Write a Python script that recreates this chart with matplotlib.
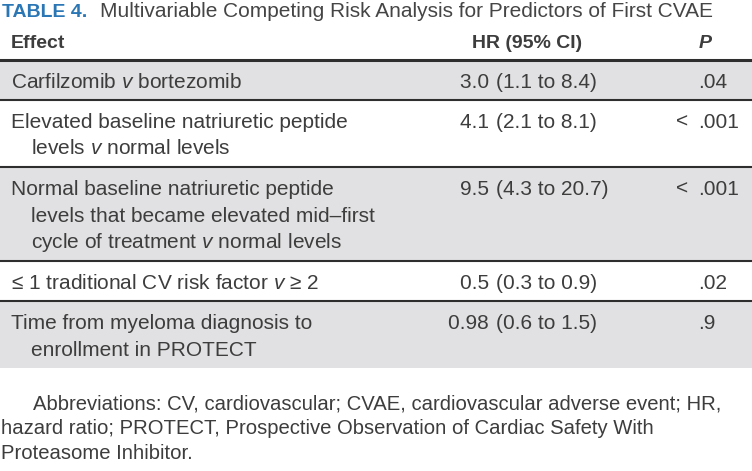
import matplotlib
matplotlib.use("Agg")
import matplotlib.pyplot as plt

plt.rcParams["font.family"] = ["Liberation Sans", "DejaVu Sans"]
plt.rcParams["mathtext.fontset"] = "custom"
plt.rcParams["mathtext.rm"] = "Liberation Sans"
plt.rcParams["mathtext.it"] = "Liberation Sans:italic"

title_label = "TABLE 4."
title_text = "Multivariable Competing Risk Analysis for Predictors of First CVAE"
headers = ["Effect", "HR (95% CI)", "P"]

effects = [
    [r"Carfilzomib $\mathit{v}$ bortezomib"],
    ["Elevated baseline natriuretic peptide", r"levels $\mathit{v}$ normal levels"],
    ["Normal baseline natriuretic peptide",
     "levels that became elevated mid\u2013first",
     r"cycle of treatment $\mathit{v}$ normal levels"],
    ["\u2264 1 traditional CV risk factor $\\mathit{v}$ \u2265 2"],
    ["Time from myeloma diagnosis to", "enrollment in PROTECT"],
]
hr_est = ["3.0", "4.1", "9.5", "0.5", "0.98"]
hr_ci = ["(1.1 to 8.4)", "(2.1 to 8.1)", "(4.3 to 20.7)", "(0.3 to 0.9)", "(0.6 to 1.5)"]
p_prefix = ["", "<", "<", "", ""]
p_values = [".04", ".001", ".001", ".02", ".9"]

footnote = [
    "Abbreviations: CV, cardiovascular; CVAE, cardiovascular adverse event; HR,",
    "hazard ratio; PROTECT, Prospective Observation of Cardiac Safety With",
    "Proteasome Inhibitor.",
]

W, H = 752, 471
fig = plt.figure(figsize=(W / 100, H / 100), dpi=100)
ax = fig.add_axes([0, 0, 1, 1])
ax.set_xlim(0, W)
ax.set_ylim(H, 0)
ax.axis("off")

txt = "#3d3d3d"
gray = "#e1e0e2"
rule = "#2e2e2e"
fs = 15

ax.text(2, 17, title_label, color="#2b76b4", fontsize=14, fontweight="bold", va="baseline")
ax.text(100, 17, title_text, color="#454545", fontsize=15, va="baseline")

ax.text(11, 48, headers[0], color=txt, fontsize=14, fontweight="bold", va="baseline")
ax.text(527, 48, headers[1], color=txt, fontsize=14, fontweight="bold", va="baseline", ha="center")
ax.text(705, 48, headers[2], color=txt, fontsize=14, fontweight="bold", style="italic",
        va="baseline", ha="center")

top = 60
line_gap = 26.5
paren_x = 496
dot_x = 698
for i, lines in enumerate(effects):
    h = 40 + 27 * (len(lines) - 1)
    if i % 2 == 0:
        ax.axhspan(top, top + h, color=gray, lw=0, zorder=0)
    base = top + 28
    for j, s in enumerate(lines):
        ax.text(11 if j == 0 else 31, base + j * line_gap, s, color=txt, fontsize=fs, va="baseline")
    ax.text(paren_x - 1, base, hr_est[i] + " ", color=txt, fontsize=fs, va="baseline", ha="right")
    ax.text(paren_x, base, hr_ci[i], color=txt, fontsize=fs, va="baseline", ha="left")
    if p_prefix[i]:
        ax.text(688, base, p_prefix[i], color=txt, fontsize=fs, va="baseline", ha="right")
    ax.text(dot_x, base, p_values[i], color=txt, fontsize=fs, va="baseline", ha="left")
    # thick rule under the header, thin rules between rows
    ax.axhline(top, color=rule, lw=2.2 if i == 0 else 1.5, zorder=2)
    top += h

for k, s in enumerate(footnote):
    ax.text(33 if k == 0 else 1, 409 + k * 25, s, color=txt, fontsize=14.6, va="baseline")

fig.savefig("out.png", dpi=100)
